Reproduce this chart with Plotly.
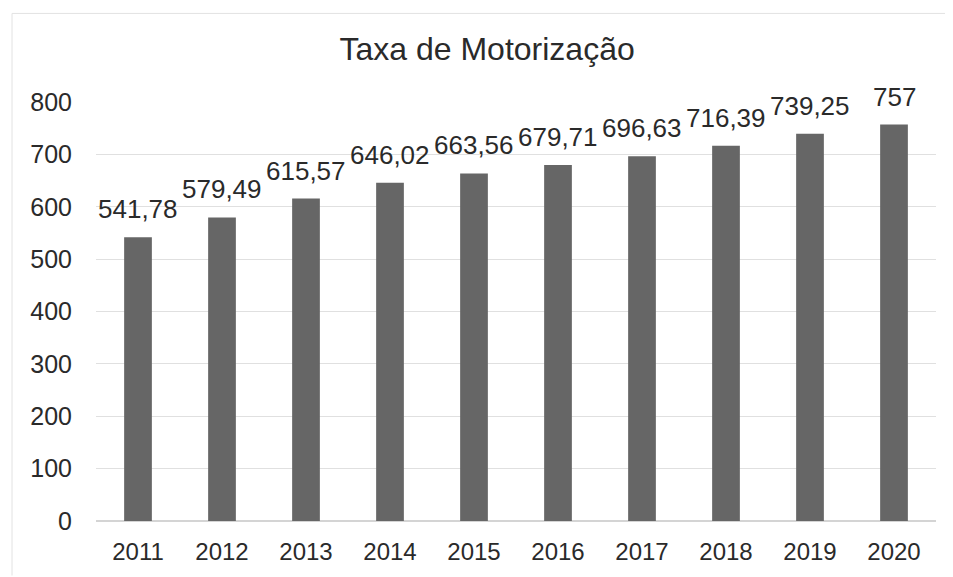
import plotly.graph_objects as go

years = ["2011", "2012", "2013", "2014", "2015", "2016", "2017", "2018", "2019", "2020"]
values = [541.78, 579.49, 615.57, 646.02, 663.56, 679.71, 696.63, 716.39, 739.25, 757]
labels = ["541,78", "579,49", "615,57", "646,02", "663,56", "679,71", "696,63", "716,39", "739,25", "757"]
y_ticks = [0, 100, 200, 300, 400, 500, 600, 700, 800]

fig = go.Figure(go.Bar(
    x=years, y=values,
    marker=dict(color="#666666", line=dict(width=0)),
    width=0.33,
))

# category axis: annotation x given as category index
annotations = [
    dict(x=i, y=yv, text=t, xref="x", yref="y", showarrow=False,
         yanchor="bottom", xanchor="center", yshift=11,
         font=dict(size=26, color="#2a2a2a"))
    for i, (yv, t) in enumerate(zip(values, labels))
]

fig.update_layout(
    width=945, height=569,
    paper_bgcolor="white", plot_bgcolor="white",
    font=dict(family="Liberation Sans, Arial, sans-serif", color="#2a2a2a"),
    title=dict(text="Taxa de Motorização", x=0.507, xanchor="center", y=0.928, yanchor="middle",
               font=dict(size=32, color="#2a2a2a")),
    margin=dict(l=88, r=17, t=94, b=54),
    showlegend=False,
    annotations=annotations,
    xaxis=dict(type="category", categoryarray=years, range=[-0.5, len(years) - 0.5],
               showline=False, ticks="", tickfont=dict(size=24), showgrid=False,
               ticklabelstandoff=14),
    yaxis=dict(range=[0, 800], tickvals=y_ticks, tickfont=dict(size=25),
               gridcolor="#e0e0e0", gridwidth=1, zeroline=True, zerolinecolor="#d4d4d4",
               ticks="", ticklabelstandoff=23),
    shapes=[
        dict(type="line", xref="paper", yref="paper", x0=-0.1, x1=1.03, y0=1.2114, y1=1.2114,
             line=dict(color="#e2e2e2", width=1)),
        dict(type="line", xref="paper", yref="paper", x0=-0.1, x1=-0.1, y0=-0.13, y1=1.2114,
             line=dict(color="#e2e2e2", width=1)),
    ],
)
fig.write_html("out.html")
